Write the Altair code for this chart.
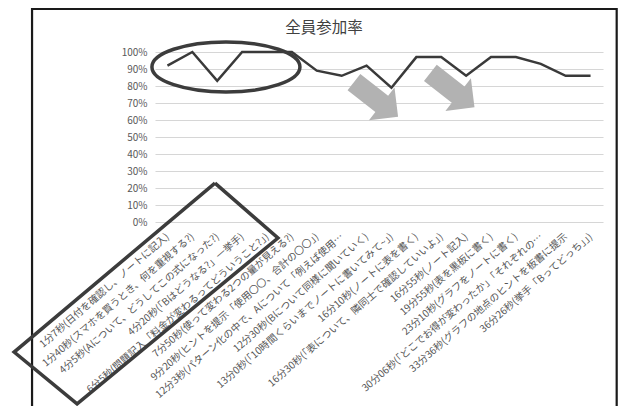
import json
import altair as alt
import pandas as pd

# ---- chart data -------------------------------------------------------
labels = [
    "1分7秒(日付を確認し、ノートに記入)",
    "1分40秒(スマホを買うとき、何を重視する?)",
    "4分5秒(Aについて、どうしてこの式になった?)",
    "4分20秒(「Bはどうなる?」一挙手)",
    "6分5秒(問題記入「料金が変わるってどういうこと?」)",
    "7分50秒(使って変わる2つの量が見える?)",
    "9分20秒(ヒントを提示「使用〇〇、合計の〇〇」)",
    "12分3秒(パターン化の中で、Aについて「例えば使用…",
    "12分30秒(Bについて同様に聞いていく)",
    "13分0秒(「10時間くらいまでノートに書いてみて~」)",
    "16分10秒(ノートに表を書く)",
    "16分30秒(「表について、隣同士で確認していいよ」)",
    "16分55秒(ノート記入)",
    "19分55秒(表を黒板に書く)",
    "23分10秒(グラフをノートに書く)",
    "30分06秒(「どこでお得が変わったか」「それぞれの…",
    "33分36秒(グラフの地点のヒントを板書に提示",
    "36分26秒(挙手「Bってどっち」」)",
]
rates = [92, 100, 83, 100, 100, 100, 89, 86, 92, 79, 97, 97, 86, 97, 97, 93, 86, 86]
y_ticks = [0, 10, 20, 30, 40, 50, 60, 70, 80, 90, 100]
title_text = ["全員参加率"]

# ---- hand-drawn annotations (in data units: x = slot index, y = percent) ----
title_x = [6.29]
title_y = [114.1]
ellipse_x = [2.35]
ellipse_y = [91.2]
arrow_x = [8.38, 11.45]
arrow_y = [72.1, 77.6]
arrow_angle = [38, 38]
box_x = [1.91, 4.44, -3.63, -6.16, 1.91]
box_y = [22.9, -9.4, -107.0, -76.5, 22.9]
frame_x = [-5.44, -5.44, 18.05, 18.05]
frame_y = [-125.0, 125.3, 125.3, -125.0]

FONT = "Noto Sans CJK JP"
XDOM = [-0.5, len(labels) - 0.5]
YDOM = [0, 100]

xs = alt.Scale(domain=XDOM, nice=False, zero=False)
ys = alt.Scale(domain=YDOM, nice=False, zero=False)

label_expr = json.dumps(labels, ensure_ascii=False) + "[datum.value]"
x_axis = alt.Axis(
    values=list(range(len(labels))), labelExpr=label_expr,
    labelAngle=-41, labelAlign="right", labelBaseline="middle",
    labelPadding=13, labelFontSize=10, labelColor="#555555", labelFont=FONT,
    labelLimit=500, labelOverlap=False, labelFlush=False,
    ticks=False, domain=False, grid=False, title=None)
y_axis = alt.Axis(
    values=y_ticks, labelExpr="datum.value + '%'",
    grid=True, gridColor="#d6d6d6", gridWidth=1.2,
    domain=False, ticks=False, labelPadding=8,
    labelFontSize=10, labelColor="#595959", labelFont=FONT, title=None)


def X():
    return alt.X("x:Q", scale=xs, axis=x_axis)


def Y():
    return alt.Y("y:Q", scale=ys, axis=y_axis)


df = pd.DataFrame({"x": list(range(len(labels))), "y": rates})
line = alt.Chart(df).mark_line(color="#3a3a3a", strokeWidth=2.5).encode(x=X(), y=Y())

title = alt.Chart(pd.DataFrame({"x": title_x, "y": title_y, "t": title_text})).mark_text(
    font=FONT, fontSize=15.5, color="#404040", align="center", baseline="middle",
).encode(x=X(), y=Y(), text="t:N")

ell_path = "M -1 0 A 1 0.338 0 1 0 1 0 A 1 0.338 0 1 0 -1 0 Z"
ellipse = alt.Chart(pd.DataFrame({"x": ellipse_x, "y": ellipse_y})).mark_point(
    shape=ell_path, filled=False, size=148 * 148, stroke="#3c3c3c",
    strokeWidth=3.5, opacity=1,
).encode(x=X(), y=Y())

arrow_path = ("M -1 -0.37 L 0.26 -0.37 L 0.26 -0.74 L 1 0 "
              "L 0.26 0.74 L 0.26 0.37 L -1 0.37 Z")
arrows = alt.Chart(pd.DataFrame({"x": arrow_x, "y": arrow_y, "a": arrow_angle})).mark_point(
    shape=arrow_path, filled=True, size=56 * 56, color="#b2b2b2", opacity=1, strokeWidth=0,
).encode(x=X(), y=Y(), angle=alt.Angle("a:Q", scale=None))

box = alt.Chart(pd.DataFrame({"x": box_x, "y": box_y, "o": list(range(len(box_x)))})).mark_line(
    color="#3c3c3c", strokeWidth=3.5,
).encode(x=X(), y=Y(), order="o:Q")

frame = alt.Chart(pd.DataFrame({"x": frame_x, "y": frame_y, "o": list(range(len(frame_x)))})).mark_line(
    color="#1a1a1a", strokeWidth=2.2,
).encode(x=X(), y=Y(), order="o:Q")

chart = alt.layer(frame, line, title, ellipse, arrows, box).properties(
    width=448, height=170,
    autosize=alt.AutoSizeParams(type="none"),
    padding={"left": 155, "top": 52, "right": 19, "bottom": 184},
    background="white",
).configure_view(stroke=None)

chart.save("out.html", embed_options={"renderer": "svg", "actions": False})
